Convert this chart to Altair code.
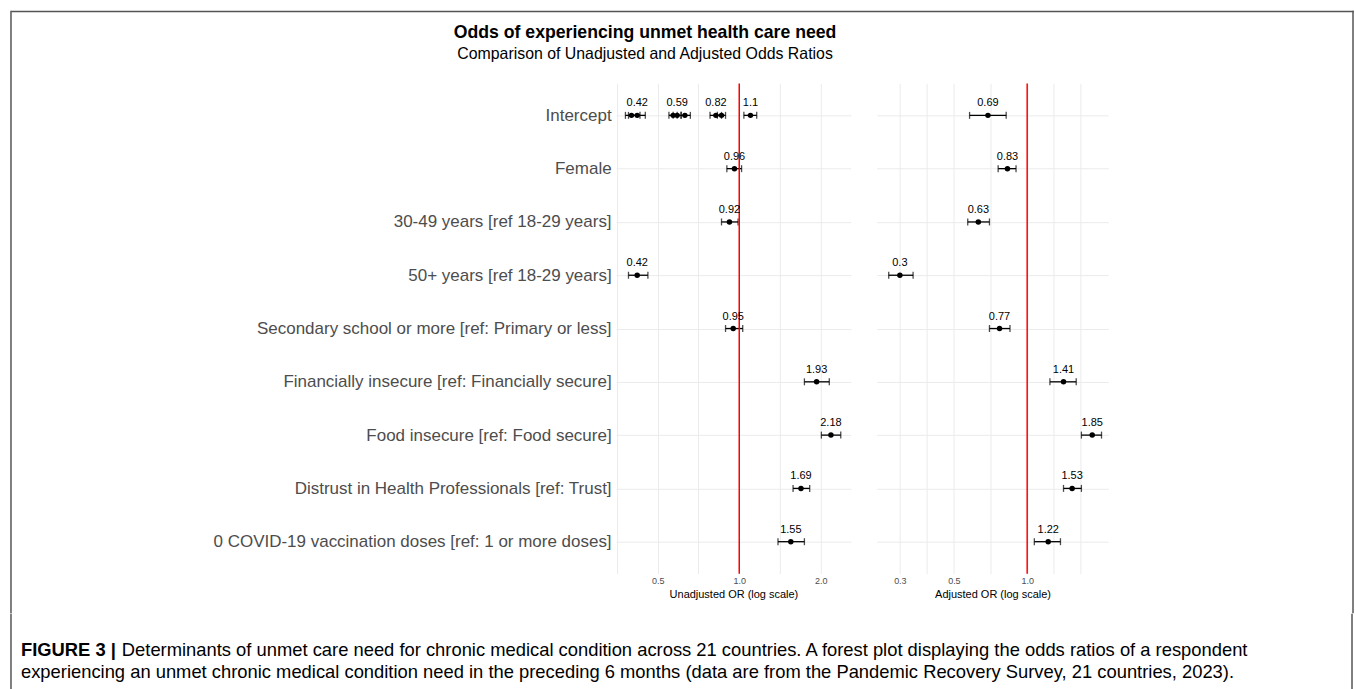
import json
import altair as alt
import pandas as pd

FONT = "Liberation Sans"

TERMS = [
    "Intercept",
    "Female",
    "30-49 years [ref 18-29 years]",
    "50+ years [ref 18-29 years]",
    "Secondary school or more [ref: Primary or less]",
    "Financially insecure [ref: Financially secure]",
    "Food insecure [ref: Food secure]",
    "Distrust in Health Professionals [ref: Trust]",
    "0 COVID-19 vaccination doses [ref: 1 or more doses]",
]

# Unadjusted (one univariate model per predictor -> several intercepts)
UN_TERM = ["Intercept"] * 8 + TERMS[1:]
UN_OR = [0.42, 0.40, 0.59, 0.57, 0.63, 0.82, 0.86, 1.10,
         0.96, 0.92, 0.42, 0.95, 1.93, 2.18, 1.69, 1.55]
UN_LO = [0.39, 0.38, 0.57, 0.55, 0.61, 0.78, 0.83, 1.04,
         0.90, 0.86, 0.39, 0.89, 1.74, 2.01, 1.58, 1.39]
UN_HI = [0.45, 0.43, 0.61, 0.59, 0.66, 0.86, 0.89, 1.16,
         1.02, 0.99, 0.46, 1.03, 2.15, 2.37, 1.82, 1.74]
UN_LABEL = ["0.42", "", "0.59", "", "", "0.82", "", "1.1",
            "0.96", "0.92", "0.42", "0.95", "1.93", "2.18", "1.69", "1.55"]

# Adjusted (single multivariable model)
AD_TERM = TERMS
AD_OR = [0.69, 0.83, 0.63, 0.30, 0.77, 1.41, 1.85, 1.53, 1.22]
AD_LO = [0.58, 0.76, 0.57, 0.27, 0.70, 1.24, 1.67, 1.41, 1.07]
AD_HI = [0.82, 0.90, 0.70, 0.34, 0.85, 1.59, 2.02, 1.67, 1.37]
AD_LABEL = ["0.69", "0.83", "0.63", "0.3", "0.77", "1.41", "1.85", "1.53", "1.22"]

UN_TICKS = [0.5, 1.0, 2.0]
UN_MINOR = [0.354, 0.707, 1.414]
AD_TICKS = [0.3, 0.5, 1.0]
AD_MINOR = [0.387, 0.707, 1.28, 1.65]

TITLE = "Odds of experiencing unmet health care need"
SUBTITLE = "Comparison of Unadjusted and Adjusted Odds Ratios"
CAP_BOLD = "FIGURE 3 |"
CAP_LINE1 = ("Determinants of unmet care need for chronic medical condition across 21 countries. "
             "A forest plot displaying the odds ratios of a respondent")
CAP_LINE2 = ("experiencing an unmet chronic medical condition need in the preceding 6 months "
             "(data are from the Pandemic Recovery Survey, 21 countries, 2023).")

un_df = pd.DataFrame({"term": UN_TERM, "or": UN_OR, "lo": UN_LO, "hi": UN_HI, "label": UN_LABEL})
ad_df = pd.DataFrame({"term": AD_TERM, "or": AD_OR, "lo": AD_LO, "hi": AD_HI, "label": AD_LABEL})

H = 491
BORDER = "#555555"
TOP = -72
GAP = 260          # distance between the two panels' origins
LEFT_EDGE = -606   # frame's left edge, relative to the left panel
RIGHT_EDGE = 477   # frame's right edge, relative to the right panel


def txt(s, x, y, **kw):
    return alt.Chart(pd.DataFrame({"t": [s]})).mark_text(font=FONT, **kw).encode(
        x=alt.value(x), y=alt.value(y), text="t:N")


def line(x, y, x2=None, y2=None):
    enc = {"x": alt.value(x), "y": alt.value(y)}
    if x2 is not None:
        enc["x2"] = alt.value(x2)
    if y2 is not None:
        enc["y2"] = alt.value(y2)
    return alt.Chart(pd.DataFrame({"a": [0]})).mark_rule(
        color=BORDER, strokeWidth=1.5, strokeCap="square").encode(**enc)


def panel(df, domain, majors, minors, title, show_labels, extras, width):
    xs = alt.Scale(type="log", domain=domain, nice=False)
    ys = alt.Scale(type="point", padding=0.6)
    expr = "indexof(%s, datum.value) >= 0 ? format(datum.value, '.1f') : ''" % json.dumps(majors)
    xaxis = alt.Axis(values=sorted(majors + minors), labelExpr=expr, title=title,
                     ticks=False, domain=False, grid=True, gridColor="#ebebeb", gridWidth=1,
                     labelColor="#4d4d4d", labelFontSize=9, labelPadding=3,
                     titleFontSize=11, titleFontWeight="normal", titleColor="black",
                     titlePadding=3, labelFont=FONT, titleFont=FONT)
    yaxis = alt.Axis(title=None, ticks=False, domain=False, grid=True, gridColor="#ebebeb",
                     labels=show_labels, labelFontSize=17, labelColor="#4d4d4d",
                     labelPadding=5, labelLimit=700, labelFont=FONT)
    base = alt.Chart(df).encode(y=alt.Y("term:N", sort=TERMS, scale=ys, axis=yaxis))
    bars = base.mark_rule(color="black", strokeWidth=1.3).encode(
        x=alt.X("lo:Q", scale=xs, axis=xaxis), x2="hi:Q")
    cap_lo = base.mark_tick(orient="vertical", size=7, thickness=1.3, color="black").encode(
        x=alt.X("lo:Q", scale=xs, axis=xaxis))
    cap_hi = base.mark_tick(orient="vertical", size=7, thickness=1.3, color="black").encode(
        x=alt.X("hi:Q", scale=xs, axis=xaxis))
    ref = alt.Chart(pd.DataFrame({"v": [1.0]})).mark_rule(color="red", strokeWidth=1.5).encode(
        x=alt.X("v:Q", scale=xs, axis=xaxis))
    pts = base.mark_circle(size=30, color="black", opacity=1).encode(
        x=alt.X("or:Q", scale=xs, axis=xaxis))
    lab = base.mark_text(font=FONT, fontSize=11, baseline="bottom", dy=-7, color="black").encode(
        x=alt.X("or:Q", scale=xs, axis=xaxis), text="label:N")
    return alt.layer(bars, cap_lo, cap_hi, ref, pts, lab, *extras).properties(width=width, height=H)


left_extras = [
    txt(TITLE, 29, -50, fontSize=17.7, fontWeight="bold", align="center", baseline="middle", color="black"),
    txt(SUBTITLE, 29, -29, fontSize=15.9, align="center", baseline="middle", color="black"),
    line(LEFT_EDGE, TOP, y2=530),
]
# the whole top edge of the frame lives in the right panel (one unbroken line)
right_extras = [
    line(LEFT_EDGE - GAP, TOP, x2=RIGHT_EDGE),
    line(RIGHT_EDGE, TOP, y2=530),
]

left = panel(un_df, [0.351, 2.58], UN_TICKS, UN_MINOR, "Unadjusted OR (log scale)", True, left_extras, 235)
right = panel(ad_df, [0.241, 2.155], AD_TICKS, AD_MINOR, "Adjusted OR (log scale)", False, right_extras, 232)

caption = alt.layer(
    line(LEFT_EDGE, 0, y2=77),
    line(GAP + RIGHT_EDGE, 0, y2=77),
    txt(CAP_BOLD, -596, 35, fontSize=18.4, fontWeight="bold", align="left", baseline="middle", color="black"),
    txt(CAP_LINE1, -495, 35, fontSize=18.4, align="left", baseline="middle", color="black"),
    txt(CAP_LINE2, -596, 57, fontSize=18.4, align="left", baseline="middle", color="black"),
).properties(width=1, height=1)

# column offset = max(0, spacing + ceil(-x1 of right panel)); left panel extends to x=235
right_x1 = -(LEFT_EDGE - GAP) + 1
hspace = (GAP - 235) - right_x1

chart = alt.vconcat(
    alt.hconcat(left, right, spacing=hspace),
    caption,
    spacing=-3,
).properties(
    padding={"left": 9, "top": 9, "right": 0, "bottom": 0},
    background="white",
).configure_view(stroke=None)

chart.save("out.html", embed_options={"renderer": "svg", "actions": False})
